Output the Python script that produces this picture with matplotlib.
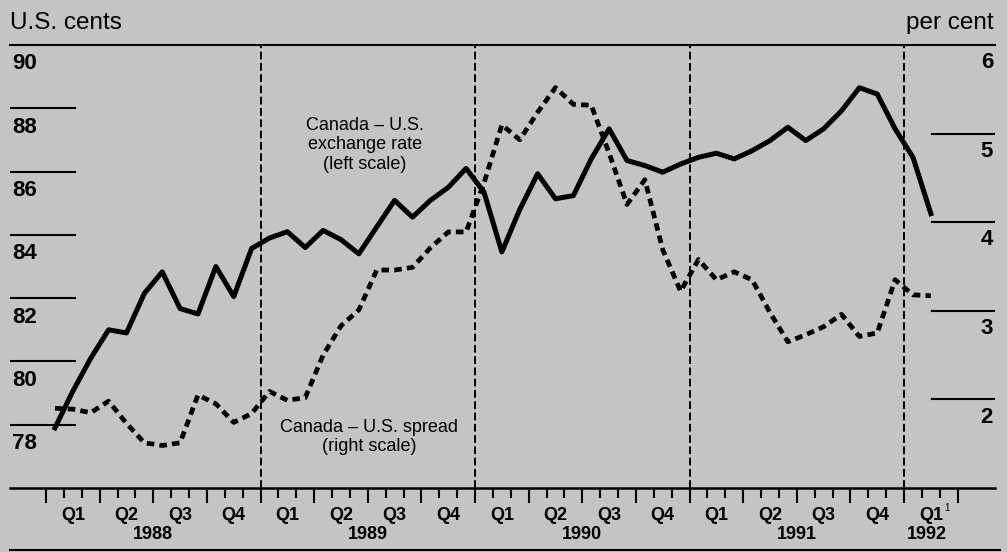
import numpy as np
import matplotlib
matplotlib.use('Agg')
import matplotlib.pyplot as plt
from matplotlib.lines import Line2D

plt.rcParams['font.family'] = ['Liberation Sans', 'DejaVu Sans']

# monthly data, Jan 1988 .. Feb 1992
start_year = 1988
exchange_rate = [77.9, 79.06, 80.1, 81.0, 80.9, 82.15, 82.83, 81.67, 81.5, 83.0, 82.05, 83.57,
                 83.9, 84.1, 83.6, 84.14, 83.85, 83.4, 84.25, 85.09, 84.56, 85.09, 85.5, 86.1,
                 85.35, 83.46, 84.8, 85.93, 85.14, 85.24, 86.4, 87.35, 86.35, 86.19, 85.98, 86.24,
                 86.45, 86.58, 86.4, 86.66, 86.98, 87.4, 86.98, 87.35, 87.92, 88.65, 88.45, 87.35,
                 86.45, 84.67]
spread = [1.9, 1.89, 1.85, 1.98, 1.73, 1.51, 1.48, 1.51, 2.05, 1.95, 1.74, 1.84,
          2.09, 1.99, 2.02, 2.5, 2.83, 3.01, 3.46, 3.46, 3.49, 3.71, 3.89, 3.89,
          4.44, 5.1, 4.93, 5.24, 5.52, 5.33, 5.32, 4.78, 4.2, 4.48, 3.69, 3.22,
          3.58, 3.35, 3.44, 3.35, 2.98, 2.65, 2.73, 2.82, 2.96, 2.71, 2.75, 3.35,
          3.18, 3.17]

left_ticks = [78, 80, 82, 84, 86, 88, 90]
right_ticks = [2, 3, 4, 5, 6]
quarters = ['Q1', 'Q2', 'Q3', 'Q4']
years = [1988, 1989, 1990, 1991]
year_lines = [1989, 1990, 1991, 1992]

bg = '#c4c4c4'
W, H = 1007, 552

x_rate = start_year + (np.arange(len(exchange_rate)) + 0.5) / 12
x_spread = start_year + (np.arange(len(spread)) + 0.5) / 12

fig = plt.figure(figsize=(W / 100, H / 100), dpi=100, facecolor=bg)
ax = fig.add_axes([10 / W, 64 / H, 985 / W, 443 / H])
ax2 = ax.twinx()
ax.set_zorder(ax2.get_zorder() + 1)
ax.patch.set_visible(False)
ax2.patch.set_visible(False)

ax.set_xlim(1987.832, 1992.424)
ax.set_ylim(76, 90)
ax2.set_ylim(1, 6)

for a in (ax, ax2):
    for s in ('left', 'right'):
        a.spines[s].set_visible(False)
ax2.spines['top'].set_visible(False)
ax2.spines['bottom'].set_visible(False)
ax.spines['top'].set_linewidth(1.5)
ax.spines['bottom'].set_linewidth(1.8)
ax.set_yticks([])
ax2.set_yticks([])

ax.set_xticks(np.arange(1988, 1992.26, 0.25))
ax.set_xticks(np.arange(1988, 1992.26, 1 / 12), minor=True)
ax.tick_params(axis='x', which='major', length=11, width=1.5, direction='out', labelbottom=False)
ax.tick_params(axis='x', which='minor', length=7.5, width=1.5, direction='out', labelbottom=False)

for yl in year_lines:
    ax.axvline(yl, color='k', lw=1.4, ls=(0, (4, 1.8)), zorder=1)

# left scale
for v in left_ticks[:-1]:
    ax.axhline(v, xmin=0, xmax=65 / 985, color='k', lw=1.5)
for v in left_ticks:
    ax.text(0.002, v - 0.6, str(v), transform=ax.get_yaxis_transform(),
            ha='left', va='center', fontsize=16, fontweight='bold')

# right scale
for v in right_ticks[:-1]:
    ax2.axhline(v, xmin=922 / 985, xmax=1, color='k', lw=1.5)
for v in right_ticks:
    ax2.text(0.998, v - 0.2, str(v), transform=ax2.get_yaxis_transform(),
             ha='right', va='center', fontsize=16, fontweight='bold')

ax.plot(x_rate, exchange_rate, color='k', lw=3.6, zorder=3)
ax2.plot(x_spread, spread, color='k', lw=3.4, ls=(0, (1.6, 1.1)), zorder=3)

# quarter / year labels
xt = ax.get_xaxis_transform()
for yr in years:
    for qi, q in enumerate(quarters):
        ax.text(yr + (qi + 0.5) / 4, -0.061, q, transform=xt, ha='center', va='center',
                fontsize=13, fontweight='bold')
    ax.text(yr + 0.5, -0.106, str(yr), transform=xt, ha='center', va='center',
            fontsize=13, fontweight='bold')
ax.text(1992.125, -0.061, 'Q1', transform=xt, ha='center', va='center',
        fontsize=13, fontweight='bold')
ax.text(1992.198, -0.045, '1', transform=xt, ha='center', va='center', fontsize=7)
ax.text(1992.107, -0.106, '1992', transform=xt, ha='center', va='center',
        fontsize=13, fontweight='bold')

ax.text(1989.487, 86.84, 'Canada \u2013 U.S.\nexchange rate\n(left scale)',
        ha='center', va='center', fontsize=13, linespacing=1.2)
ax.text(1989.506, 77.61, 'Canada \u2013 U.S. spread\n(right scale)',
        ha='center', va='center', fontsize=13, linespacing=1.2)

fig.text(10 / W, 1 - 29 / H, 'U.S. cents', ha='left', va='baseline', fontsize=17.5)
fig.text(994 / W, 1 - 29 / H, 'per cent', ha='right', va='baseline', fontsize=17.5)

fig.add_artist(Line2D([10 / W, 1000 / W], [2 / H, 2 / H], color='k', lw=1.5))

fig.savefig('out.png', dpi=100, facecolor=bg)
